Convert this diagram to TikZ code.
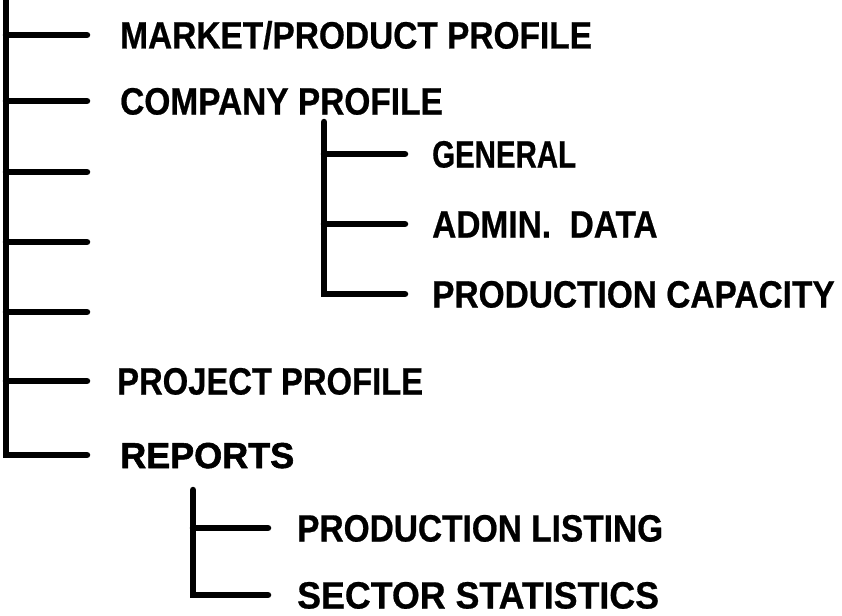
\documentclass[tikz,border=0pt]{standalone}
\usepackage{fontspec}
\newfontfamily\lab{Liberation Sans}[FakeStretch=0.88, BoldFeatures={FakeBold=0.6}]
\newfontfamily\labw{Liberation Sans}[BoldFeatures={FakeBold=1.6}]
\begin{document}
\begin{tikzpicture}[x=1pt,y=-1pt,
  br/.style={line width=6.5pt, line cap=round, line join=miter},
  lbl/.style={anchor=west, inner sep=0pt, font=\lab\bfseries\fontsize{38}{40}\selectfont, text height=27pt, text depth=0pt},
  lblb/.style={anchor=west, inner sep=0pt, font=\labw\bfseries\fontsize{36}{40}\selectfont, text height=26pt, text depth=0pt}]
\useasboundingbox (0,0) rectangle (842,615);
% labels
\node[lbl]  (t1) at (120,35)  {MARKET/PRODUCT PROFILE};
\node[lbl]  (t2) at (120,101) {COMPANY PROFILE};
\node[lbl]  (t3) at (117,381) {\scalebox{0.98}[1]{PROJECT PROFILE}};
\node[lblb] (t4) at (120,455) {REPORTS};
\node[lbl]  (s1) at (432,154) {\scalebox{0.88}[1]{GENERAL}};
\node[lbl]  (s2) at (432,224) {ADMIN.~~DATA};
\node[lbl]  (s3) at (432,294) {PRODUCTION CAPACITY};
\node[lbl]  (r1) at (297,528) {PRODUCTION LISTING};
\node[lbl]  (r2) at (297,595) {\scalebox{1.07}[1]{SECTOR STATISTICS}};
% main tree
\coordinate (sp0) at (6,-4);
\coordinate (e3) at (87,172);
\coordinate (e4) at (87,242);
\coordinate (e5) at (87,312);
\draw[br] (sp0) |- ([xshift=-33pt]t4.west);
\draw[br] (sp0 |- t1.west) -- ([xshift=-33pt]t1.west);
\draw[br] (sp0 |- t2.west) -- ([xshift=-33pt]t2.west);
\draw[br] (sp0 |- e3) -- (e3);
\draw[br] (sp0 |- e4) -- (e4);
\draw[br] (sp0 |- e5) -- (e5);
\draw[br] (sp0 |- t3.west) -- ([xshift=-30pt]t3.west);
% company profile subtree
\coordinate (c0) at (324,122);
\draw[br] (c0) |- ([xshift=-27pt]s3.west);
\draw[br] (c0 |- s1.west) -- ([xshift=-27pt]s1.west);
\draw[br] (c0 |- s2.west) -- ([xshift=-27pt]s2.west);
% reports subtree
\coordinate (d0) at (193,490);
\draw[br] (d0) |- ([xshift=-29pt]r2.west);
\draw[br] (d0 |- r1.west) -- ([xshift=-29pt]r1.west);
\end{tikzpicture}
\end{document}
